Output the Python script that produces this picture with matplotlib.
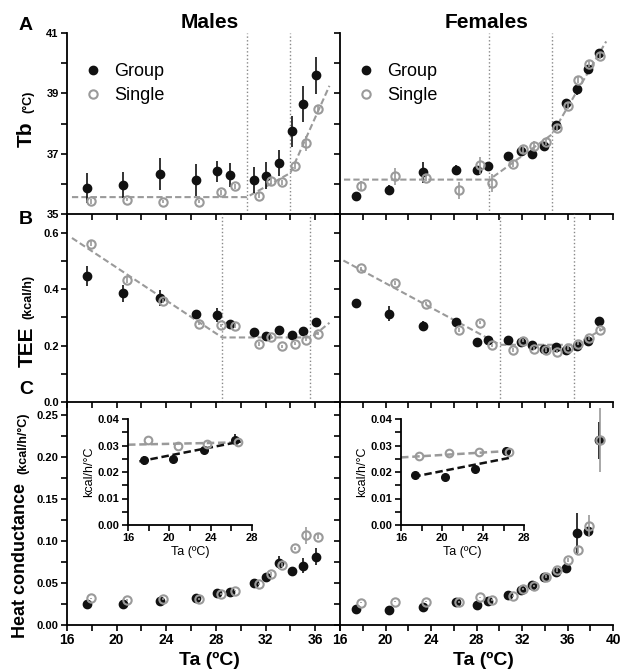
import numpy as np
import matplotlib
matplotlib.use("Agg")
import matplotlib.pyplot as plt
from matplotlib.ticker import MultipleLocator, FixedLocator

plt.rcParams['font.family'] = ['Liberation Sans', 'DejaVu Sans']
plt.rcParams['font.weight'] = 'bold'

#%%
# Males: ambient temperature of each group / single measurement
ta_m_group = [17.6, 20.5, 23.5, 26.4, 28.1, 29.15, 31.1, 32.0, 33.05, 34.1, 35.05, 36.1]
ta_m_single = [17.9, 20.8, 23.7, 26.6, 28.45, 29.5, 31.45, 32.4, 33.3, 34.35, 35.25, 36.25]

tb_m_group = [35.86, 35.97, 36.34, 36.13, 36.41, 36.30, 36.13, 36.27, 36.68, 37.74, 38.65, 39.6]
tb_m_group_err = [0.49, 0.43, 0.53, 0.53, 0.34, 0.40, 0.44, 0.44, 0.43, 0.52, 0.60, 0.62]
tb_m_single = [35.42, 35.48, 35.40, 35.41, 35.72, 35.92, 35.61, 36.09, 36.05, 36.60, 37.35, 38.49]
tb_m_single_err = [0.08, 0.06, 0.05, 0.05, 0.08, 0.08, 0.08, 0.10, 0.08, 0.10, 0.25, 0.10]

tee_m_group = [0.448, 0.385, 0.368, 0.311, 0.308, 0.278, 0.247, 0.233, 0.257, 0.239, 0.251, 0.283]
tee_m_group_err = [0.036, 0.030, 0.028, 0.010, 0.025, 0.010, 0.010, 0.010, 0.010, 0.010, 0.010, 0.010]
tee_m_single = [0.562, 0.433, 0.359, 0.278, 0.272, 0.269, 0.206, 0.231, 0.197, 0.207, 0.221, 0.243]
tee_m_single_err = [0.008, 0.010, 0.008, 0.006, 0.006, 0.006, 0.006, 0.006, 0.006, 0.006, 0.006, 0.006]

hc_m_group = [0.0246, 0.0246, 0.0286, 0.0317, 0.0377, 0.0397, 0.0504, 0.0567, 0.0742, 0.0643, 0.0706, 0.0813]
hc_m_group_err = [0.002, 0.002, 0.002, 0.002, 0.002, 0.002, 0.002, 0.003, 0.008, 0.003, 0.009, 0.010]
hc_m_single = [0.0317, 0.0298, 0.0306, 0.0306, 0.0369, 0.0409, 0.0488, 0.0607, 0.0714, 0.0913, 0.107, 0.105]
hc_m_single_err = [0.001, 0.001, 0.001, 0.001, 0.001, 0.001, 0.001, 0.002, 0.002, 0.002, 0.010, 0.003]

# inset (males)
ta_in_m_group = [17.5, 20.4, 23.4, 26.4]
k_m_group = [0.0244, 0.0249, 0.0284, 0.0322]
k_m_group_err = [0.0017, 0.0015, 0.0015, 0.0020]
ta_in_m_single = [17.9, 20.8, 23.6, 26.6]
k_m_single = [0.0322, 0.0297, 0.0307, 0.0313]

# fitted broken-stick lines and breakpoints (males)
fit_tb_m_x = [16.4, 30.5, 34.0, 37.15]
fit_tb_m_y = [35.56, 35.56, 36.36, 39.25]
brk_tb_m = [30.5, 34.0]
fit_tee_m_x = [16.4, 28.5, 35.7, 37.15]
fit_tee_m_y = [0.582, 0.229, 0.229, 0.281]
brk_tee_m = [28.5, 35.6]
fit_k_m_single_x = [16.0, 26.9]
fit_k_m_single_y = [0.0303, 0.0312]
fit_k_m_group_x = [17.1, 26.9]
fit_k_m_group_y = [0.0240, 0.0315]

#%%
# Females
ta_f_group = [17.4, 20.35, 23.3, 26.2, 28.0, 29.05, 30.8, 31.9, 32.9, 33.95, 34.95, 35.9, 36.85, 37.8, 38.8]
ta_f_single = [17.85, 20.8, 23.6, 26.45, 28.3, 29.35, 31.25, 32.1, 33.05, 34.1, 35.05, 36.05, 36.95, 37.9, 38.9]

tb_f_group = [35.59, 35.81, 36.39, 36.47, 36.45, 36.58, 36.91, 37.08, 36.99, 37.24, 37.96, 38.68, 39.14, 39.81, 40.34]
tb_f_group_err = [0.15, 0.15, 0.35, 0.15, 0.15, 0.10, 0.10, 0.10, 0.10, 0.10, 0.10, 0.10, 0.18, 0.10, 0.10]
tb_f_single = [35.94, 36.25, 36.19, 35.78, 36.61, 36.03, 36.66, 37.15, 37.27, 37.38, 37.85, 38.59, 39.43, 39.98, 40.25]
tb_f_single_err = [0.15, 0.28, 0.10, 0.29, 0.28, 0.30, 0.10, 0.15, 0.15, 0.10, 0.10, 0.10, 0.10, 0.10, 0.10]

tee_f_group = [0.353, 0.313, 0.271, 0.284, 0.213, 0.219, 0.221, 0.213, 0.203, 0.189, 0.194, 0.183, 0.200, 0.215, 0.289]
tee_f_group_err = [0.012, 0.027, 0.015, 0.012, 0.008, 0.008, 0.008, 0.008, 0.008, 0.008, 0.008, 0.008, 0.008, 0.008, 0.010]
tee_f_single = [0.474, 0.422, 0.349, 0.255, 0.281, 0.201, 0.185, 0.218, 0.189, 0.185, 0.179, 0.191, 0.207, 0.227, 0.257]
tee_f_single_err = [0.006] * 15

hc_f_group = [0.0190, 0.0179, 0.0210, 0.0278, 0.0238, 0.0290, 0.0357, 0.0417, 0.0476, 0.0567, 0.0635, 0.0675, 0.109, 0.112, 0.220]
hc_f_group_err = [0.002, 0.002, 0.002, 0.002, 0.002, 0.002, 0.002, 0.002, 0.002, 0.002, 0.002, 0.002, 0.024, 0.005, 0.022]
hc_f_single = [0.0266, 0.0278, 0.0278, 0.0270, 0.0329, 0.0298, 0.0345, 0.0429, 0.0464, 0.0575, 0.0655, 0.0774, 0.0893, 0.118, 0.220]
hc_f_single_err = [0.001, 0.001, 0.001, 0.001, 0.001, 0.001, 0.001, 0.001, 0.001, 0.002, 0.002, 0.002, 0.003, 0.013, 0.038]

# inset (females)
ta_in_f_group = [17.35, 20.3, 23.2, 26.2]
k_f_group = [0.0190, 0.0182, 0.0210, 0.0279]
k_f_group_err = [0.0008, 0.0008, 0.0008, 0.0010]
ta_in_f_single = [17.8, 20.7, 23.6, 26.55]
k_f_single = [0.0262, 0.0273, 0.0277, 0.0277]

fit_tb_f_x = [16.35, 29.13, 34.6, 39.4]
fit_tb_f_y = [36.14, 36.14, 37.63, 40.72]
brk_tb_f = [29.13, 34.6]
fit_tee_f_x = [16.3, 30.07, 36.66, 39.3]
fit_tee_f_y = [0.502, 0.203, 0.203, 0.263]
brk_tee_f = [30.07, 36.6]
fit_k_f_single_x = [16.0, 26.8]
fit_k_f_single_y = [0.0255, 0.0280]
fit_k_f_group_x = [17.2, 26.8]
fit_k_f_group_y = [0.0182, 0.0255]

tb_ticks = [35, 37, 39, 41]

#%%
W, H = 629, 669
GRAY = '#9a9a9a'
fig = plt.figure(figsize=(W / 100, H / 100), dpi=100)


def add_ax(x0, y0, x1, y1):
    # pixel box -> figure fraction
    return fig.add_axes([x0 / W, 1 - y1 / H, (x1 - x0) / W, (y1 - y0) / H])


def style(ax, xmax, ylim, ymaj, ymin, xlabels, ylabels, fs_x=10, fs_y=8):
    ax.set_xlim(16, xmax)
    ax.set_ylim(*ylim)
    for s in ['top', 'right']:
        ax.spines[s].set_visible(False)
    for s in ['left', 'bottom']:
        ax.spines[s].set_linewidth(1.3)
    ax.xaxis.set_major_locator(MultipleLocator(4))
    ax.xaxis.set_minor_locator(MultipleLocator(2))
    ax.yaxis.set_major_locator(MultipleLocator(ymaj))
    ax.yaxis.set_minor_locator(MultipleLocator(ymin))
    ax.tick_params(which='both', direction='out', width=1.2, length=4, pad=2)
    ax.tick_params(axis='x', labelsize=fs_x, labelbottom=xlabels)
    ax.tick_params(axis='y', labelsize=fs_y, labelleft=ylabels)
    ax.patch.set_alpha(0)


def points(ax, xg, yg, eg, xs, ys, es, ms=6):
    ax.errorbar(xg, yg, yerr=eg, fmt='o', color='#111111', ms=ms, elinewidth=1.2,
                capsize=0, zorder=3)
    ax.errorbar(xs, ys, yerr=es, fmt='o', mfc='none', mec=GRAY, mew=1.5, ecolor=GRAY,
                ms=ms, elinewidth=1.2, capsize=0, zorder=4)


def fit(ax, fx, fy, brk=None):
    ax.plot(fx, fy, '--', color=GRAY, lw=1.5, dashes=(3, 1.5), zorder=2)
    if brk is not None:
        for b in brk:
            ax.axvline(b, color='#888888', lw=1, ls=':', zorder=1)


cols = [(67, 340, 38), (340, 613, 40)]
rows = [(33, 214), (214, 402), (402, 625)]

male = dict(tb=(ta_m_group, tb_m_group, tb_m_group_err, ta_m_single, tb_m_single, tb_m_single_err),
            tee=(ta_m_group, tee_m_group, tee_m_group_err, ta_m_single, tee_m_single, tee_m_single_err),
            hc=(ta_m_group, hc_m_group, hc_m_group_err, ta_m_single, hc_m_single, hc_m_single_err),
            fit_tb=(fit_tb_m_x, fit_tb_m_y, brk_tb_m), fit_tee=(fit_tee_m_x, fit_tee_m_y, brk_tee_m),
            ins=(ta_in_m_group, k_m_group, k_m_group_err, ta_in_m_single, k_m_single, [0] * 4),
            kfit=(fit_k_m_single_x, fit_k_m_single_y, fit_k_m_group_x, fit_k_m_group_y),
            inset_px=(128, 419, 252, 525))
female = dict(tb=(ta_f_group, tb_f_group, tb_f_group_err, ta_f_single, tb_f_single, tb_f_single_err),
              tee=(ta_f_group, tee_f_group, tee_f_group_err, ta_f_single, tee_f_single, tee_f_single_err),
              hc=(ta_f_group, hc_f_group, hc_f_group_err, ta_f_single, hc_f_single, hc_f_single_err),
              fit_tb=(fit_tb_f_x, fit_tb_f_y, brk_tb_f), fit_tee=(fit_tee_f_x, fit_tee_f_y, brk_tee_f),
              ins=(ta_in_f_group, k_f_group, k_f_group_err, ta_in_f_single, k_f_single, [0] * 4),
              kfit=(fit_k_f_single_x, fit_k_f_single_y, fit_k_f_group_x, fit_k_f_group_y),
              inset_px=(401, 419, 524, 525))

for j, d in enumerate([male, female]):
    x0, x1, xmax = cols[j]
    first = (j == 0)

    # A: body temperature
    ax = add_ax(x0, rows[0][0], x1, rows[0][1])
    fit(ax, *d['fit_tb'])
    points(ax, *d['tb'])
    style(ax, xmax, (35, 41), 2, 1, False, first)
    ax.yaxis.set_major_locator(FixedLocator(tb_ticks))
    h1 = ax.errorbar([], [], fmt='o', color='#111111', ms=6)
    h2 = ax.errorbar([], [], fmt='o', mfc='none', mec=GRAY, mew=1.5, ms=6)
    ax.legend([h1, h2], ['Group', 'Single'], loc='upper left', bbox_to_anchor=(0.0, 0.905),
              frameon=False, prop={'size': 13, 'weight': 'normal'}, handletextpad=0.4,
              labelspacing=0.42, handlelength=1.5, borderaxespad=0.3)

    # B: total energy expenditure
    ax = add_ax(x0, rows[1][0], x1, rows[1][1])
    fit(ax, *d['fit_tee'])
    points(ax, *d['tee'])
    style(ax, xmax, (0, 0.667), 0.2, 0.1, False, first)
    ax.yaxis.set_major_formatter(lambda v, p: f'{v:.1f}')

    # C: heat conductance
    ax = add_ax(x0, rows[2][0], x1, rows[2][1])
    points(ax, *d['hc'])
    style(ax, xmax, (0, 0.2655), 0.05, 0.025, True, first)
    ax.yaxis.set_major_formatter(lambda v, p: f'{v:.2f}')

    # inset
    ix0, iy0, ix1, iy1 = d['inset_px']
    axi = add_ax(ix0, iy0, ix1, iy1)
    sx, sy, gx, gy = d['kfit']
    axi.plot(sx, sy, '--', color=GRAY, lw=1.8, dashes=(3, 1.5))
    axi.plot(gx, gy, '--', color='#111111', lw=1.8, dashes=(3, 1.5))
    points(axi, *d['ins'], ms=5.5)
    style(axi, 28, (0, 0.04), 0.01, 0.005, True, True, fs_x=8, fs_y=8)
    axi.yaxis.set_major_formatter(lambda v, p: f'{v:.2f}')
    axi.set_xlabel('Ta (ºC)', fontsize=9, labelpad=2)
    axi.set_ylabel('kcal/h/°C', fontsize=9, labelpad=2)

# titles, panel letters and axis labels
fig.text(210 / W, 1 - 22 / H, 'Males', fontsize=15, ha='center', va='center')
fig.text(487 / W, 1 - 22 / H, 'Females', fontsize=15, ha='center', va='center')
for letter, yy in [('A', 25), ('B', 220), ('C', 389)]:
    fig.text(26 / W, 1 - yy / H, letter, fontsize=14, ha='center', va='center')

fig.text(26 / W, 1 - 134 / H, 'Tb', fontsize=15, rotation=90, ha='center', va='center')
fig.text(28 / W, 1 - 102 / H, '(°C)', fontsize=9, rotation=90, ha='center', va='center')
fig.text(27 / W, 1 - 347 / H, 'TEE', fontsize=15, rotation=90, ha='center', va='center')
fig.text(28 / W, 1 - 297 / H, '(kcal/h)', fontsize=9, rotation=90, ha='center', va='center')
fig.text(21 / W, 1 - 560 / H, 'Heat conductance', fontsize=13, rotation=90, ha='center', va='center')
fig.text(23 / W, 1 - 443 / H, '(kcal/h/°C)', fontsize=9, rotation=90, ha='center', va='center')

fig.text(209 / W, 1 - 660 / H, 'Ta (ºC)', fontsize=14, ha='center', va='center')
fig.text(483 / W, 1 - 660 / H, 'Ta (ºC)', fontsize=14, ha='center', va='center')

fig.savefig('out.png', dpi=100)
